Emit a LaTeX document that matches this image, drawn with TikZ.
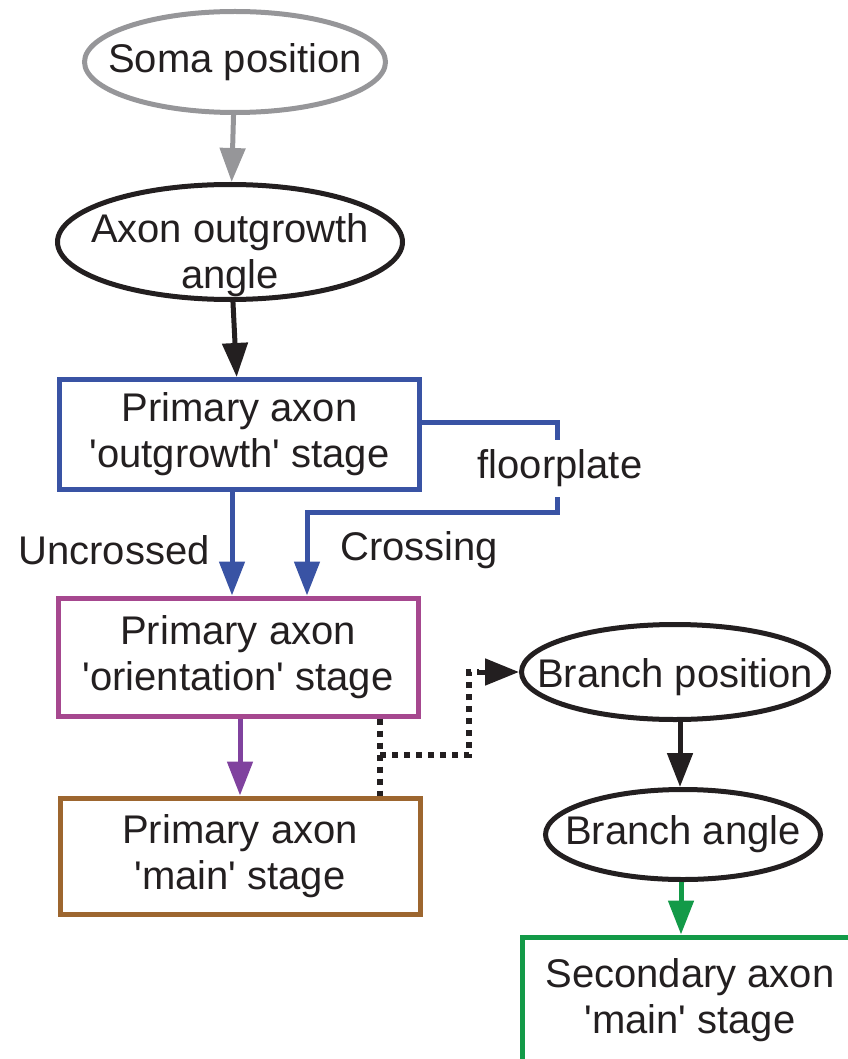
\documentclass[tikz,border=0pt]{standalone}
\usepackage{fontspec}
\setmainfont{Liberation Sans}
\usepackage{xcolor}
\usepackage{tikz}
\usetikzlibrary{arrows.meta,positioning,shapes.geometric}

\definecolor{inkgrey}{RGB}{150,150,153}
\definecolor{inkblue}{RGB}{57,83,164}
\definecolor{inkplum}{RGB}{166,72,143}
\definecolor{inkviolet}{RGB}{128,66,158}
\definecolor{inkbrown}{RGB}{157,102,47}
\definecolor{inkgreen}{RGB}{19,154,72}
\definecolor{inktext}{RGB}{35,31,32}
\newcommand{\q}{\textquotesingle}

\begin{document}
\begin{tikzpicture}[
  x=0.5pt, y=-0.5pt,
  font=\fontsize{20}{23}\selectfont, text=inktext,
  % the size of an oval is set by its minimum width/height only
  oval/.style={ellipse, draw=inktext, line width=2.5pt,
               inner xsep=-60pt, inner ysep=-40pt, align=center},
  stagebox/.style={rectangle, draw, line width=2.5pt, inner sep=0pt,
                   align=center},
  lbl/.style={inner sep=0pt},
  arr/.style={line width=2.5pt, -{Triangle[length=17pt, width=12.5pt]}},
  dots/.style={line width=3pt, dash pattern=on 3pt off 3pt, inktext}
]
\useasboundingbox (0,0) rectangle (847,1059);

% primary axon pathway
\node[oval, draw=inkgrey, minimum width=150.5pt, minimum height=50.5pt]
  (soma) at (235,62) {Soma position};
\node[oval, minimum width=172.5pt, minimum height=57.5pt,
      text depth=0pt, text height=46pt]
  (angle) at (230,242) {Axon outgrowth\\angle};
\node[stagebox, draw=inkblue, minimum width=180pt, minimum height=55pt]
  (outgrowth) at (239.5,434.5) {Primary axon\\\q outgrowth\q{} stage};
\node[stagebox, draw=inkplum, minimum width=180pt, minimum height=59pt]
  (orientation) at (238,657) {Primary axon\\\q orientation\q{} stage};
\node[stagebox, draw=inkbrown, minimum width=180pt, minimum height=58pt]
  (mainstage) at (240,856) {Primary axon\\\q main\q{} stage};

% branch pathway
\node[oval, minimum width=153.5pt, minimum height=47.5pt,
      text depth=0pt, text height=15pt]
  (branchpos) at (675,672) {Branch position};
\node[oval, minimum width=137.5pt, minimum height=45pt]
  (branchangle) at (683,834.5) {Branch angle};
\node[stagebox, draw=inkgreen, minimum width=168pt, minimum height=63pt]
  (secondary) at (690,1000) {Secondary axon\\\q main\q{} stage};

% labels
\node[lbl, minimum height=28.5pt] (floor) at (560,468.5) {floorplate};
\node[lbl, anchor=east] (uncrossed) at (210,550) {Uncrossed};
\node[lbl, anchor=west] (crossing) at (340,550) {Crossing};

% connectors
\draw[arr, inkgrey] (soma) -- (angle);
\draw[arr, inktext] (angle) -- (outgrowth);
\draw[arr, inkblue] ([xshift=-3.75pt]outgrowth.south)
  -- ([xshift=-3pt]orientation.north);
\draw[line width=2.5pt, inkblue] ([yshift=6pt]outgrowth.east)
  -| ([xshift=-1.5pt]floor.north);
\draw[arr, inkblue] ([xshift=-1.5pt]floor.south) -- ++(0,15)
  -| ([xshift=34.5pt]orientation.north);
\draw[arr, inkviolet] ([xshift=1pt]orientation.south)
  -- (mainstage.north);
\draw[arr, inktext] ([xshift=2.5pt]branchpos.south)
  -- ([xshift=-1.5pt]branchangle.north);
\draw[arr, inkgreen] ([xshift=-1pt]branchangle.south)
  -- ([xshift=-4.5pt]secondary.north);

% dotted side branch
\coordinate (split) at (380,755);
\draw[dots] ([xshift=71pt]orientation.south) -- ([xshift=70pt]mainstage.north);
\draw[dots] (split) -- ++(89,0) |- ([xshift=-20pt]branchpos.west);
\draw[line width=2.5pt, inktext, -{Triangle[length=17pt, width=13pt]}]
  ([xshift=-20pt]branchpos.west) -- (branchpos.west);
\end{tikzpicture}
\end{document}
